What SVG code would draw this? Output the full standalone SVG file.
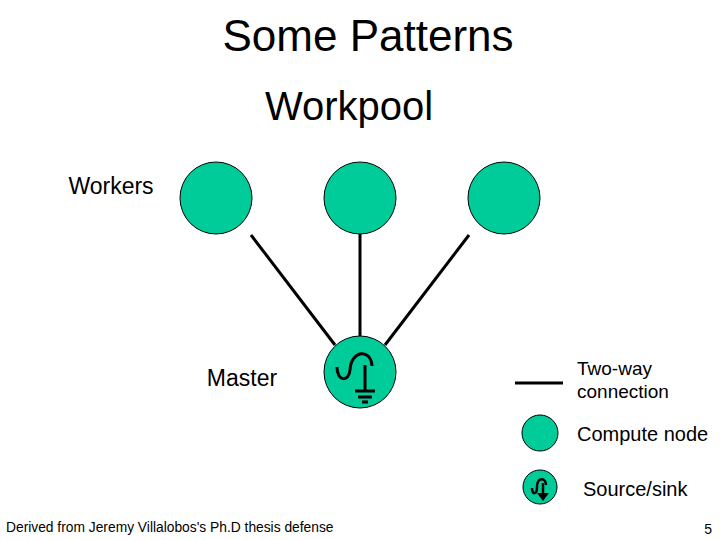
<svg xmlns="http://www.w3.org/2000/svg" width="720" height="540" viewBox="0 0 720 540">
<style>
text{font-family:"Liberation Sans",Arial,sans-serif;fill:#000}
.n{fill:#00cc99;stroke:#000;stroke-width:1}
.c{stroke:#000;stroke-width:3;fill:none}
.s{stroke:#000;stroke-width:3;fill:none}
</style>
<rect width="720" height="540" fill="#fff"/>
<text x="368" y="51" font-size="44" text-anchor="middle">Some Patterns</text>
<text x="349" y="120" font-size="40" text-anchor="middle">Workpool</text>
<text x="111" y="194" font-size="23" text-anchor="middle">Workers</text>
<text x="242" y="386" font-size="23" text-anchor="middle">Master</text>
<g id="connectors">
<line class="c" x1="251" y1="235" x2="335" y2="345"/>
<line class="c" x1="360" y1="234" x2="360" y2="336"/>
<line class="c" x1="469" y1="235" x2="385" y2="345"/>
</g>
<g id="w1"><circle class="n" cx="216" cy="198" r="36"/></g>
<g id="w2"><circle class="n" cx="360" cy="198" r="36"/></g>
<g id="w3"><circle class="n" cx="504" cy="198" r="36"/></g>
<g id="master">
<circle class="n" cx="360" cy="372" r="36"/>
<path class="s" d="M337,367 C337,382 349,382 350,370 C351,350 371,348 372,366"/>
<line class="s" x1="365" y1="365" x2="365" y2="391"/>
<line class="s" x1="355" y1="391" x2="375" y2="391"/>
<line class="s" x1="358" y1="397" x2="372" y2="397"/>
<line class="s" x1="362" y1="402" x2="368" y2="402"/>
</g>
<g id="legend">
<line x1="515" y1="383" x2="563" y2="383" stroke="#000" stroke-width="3"/>
<text x="577" y="375" font-size="19">Two-way</text>
<text x="577" y="398" font-size="19">connection</text>
<circle class="n" cx="540" cy="433" r="18"/>
<text x="577" y="441" font-size="20">Compute node</text>
<circle class="n" cx="540" cy="487" r="17"/>
<path d="M532,488 C532,495 537,495 537,487 C537,477 546,477 546,485" stroke="#000" stroke-width="2.5" fill="none"/>
<line x1="543" y1="483" x2="543" y2="495" stroke="#000" stroke-width="2.5"/>
<path d="M537,493 L549,493 L543,501 Z" fill="#000"/>
<text x="583" y="496" font-size="20">Source/sink</text>
</g>
<text x="6" y="532" font-size="13.8">Derived from Jeremy Villalobos's Ph.D thesis defense</text>
<text x="712" y="534" font-size="14" text-anchor="end">5</text>
</svg>
